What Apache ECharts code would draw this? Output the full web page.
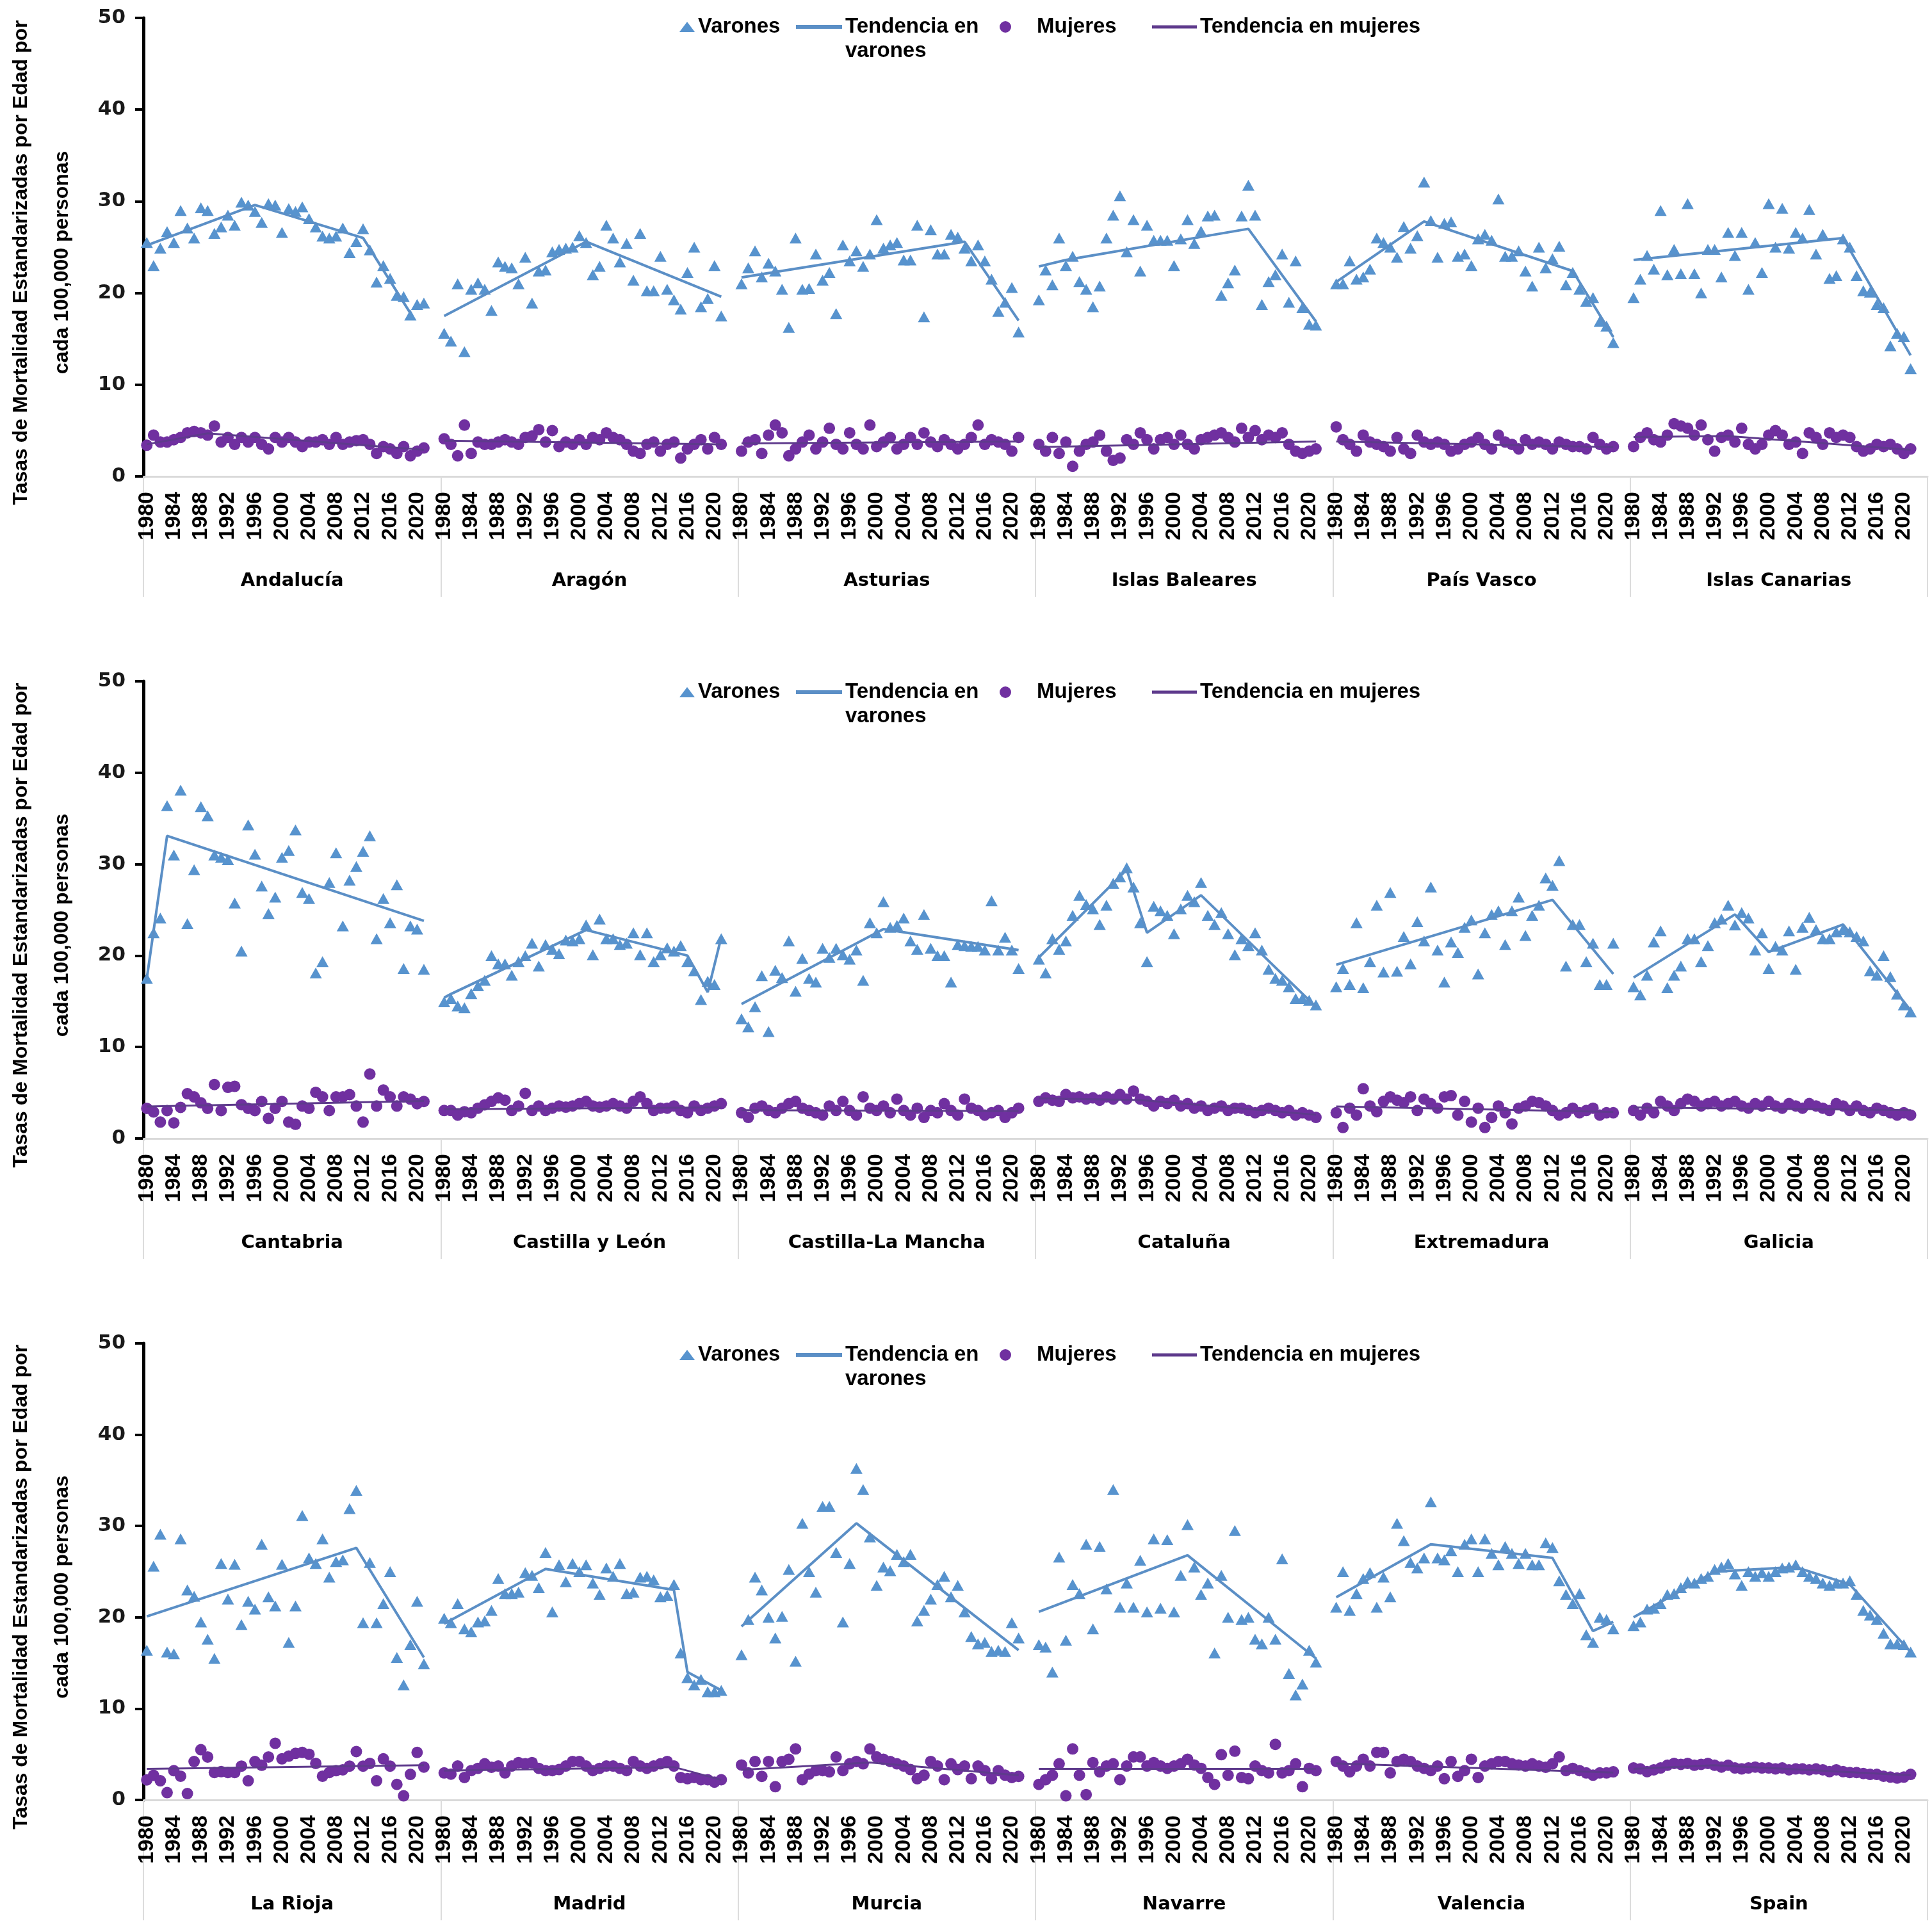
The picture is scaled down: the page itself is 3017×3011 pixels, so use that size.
<!DOCTYPE html>
<html>
<head>
<meta charset="utf-8">
<script src="https://cdn.jsdelivr.net/npm/echarts@6/dist/echarts.min.js"></script>
<style>
  html, body { margin: 0; padding: 0; background: #fff; }
  #chart { width: 3017px; height: 3011px; }
</style>
</head>
<body>
<div id="chart"></div>
<script>
var years = [1980, 1981, 1982, 1983, 1984, 1985, 1986, 1987, 1988, 1989, 1990, 1991, 1992, 1993,
	1994, 1995, 1996, 1997, 1998, 1999, 2000, 2001, 2002, 2003, 2004, 2005, 2006, 2007,
	2008, 2009, 2010, 2011, 2012, 2013, 2014, 2015, 2016, 2017, 2018, 2019, 2020, 2021];

var panel1Regions = ['Andalucía', 'Aragón', 'Asturias', 'Islas Baleares', 'País Vasco', 'Islas Canarias'];
var panel2Regions = ['Cantabria', 'Castilla y León', 'Castilla-La Mancha', 'Cataluña', 'Extremadura', 'Galicia'];
var panel3Regions = ['La Rioja', 'Madrid', 'Murcia', 'Navarre', 'Valencia', 'Spain'];

var yTicks = [0, 10, 20, 30, 40, 50];

// Varones (triangles), 1980-2021
var andaluciaVarones = [25.5, 23, 24.9, 26.7, 25.5, 29, 27.1, 26, 29.3, 29, 26.5, 27.2, 28.5, 27.4, 29.9, 29.6, 28.9, 27.7, 29.75, 29.6, 26.6, 29.2, 28.9, 29.4, 28.1, 27.2, 26.2, 26, 26.2, 27.1, 24.4, 25.6, 27, 24.7, 21.2, 23, 21.6, 19.75, 19.6, 17.6, 18.75, 18.9];
var aragonVarones = [15.6, 14.75, 21, 13.6, 20.4, 21.1, 20.4, 18.1, 23.4, 22.9, 22.75, 21, 23.9, 18.9, 22.4, 22.5, 24.5, 24.75, 24.9, 25, 26.25, 25.5, 22, 22.9, 27.4, 26, 23.4, 25.4, 21.4, 26.5, 20.25, 20.25, 24, 20.4, 19.25, 18.25, 22.25, 25, 18.5, 19.4, 23, 17.5];
var asturiasVarones = [21, 22.75, 24.6, 21.75, 23.25, 22.4, 20.4, 16.25, 26, 20.4, 20.5, 24.25, 21.4, 22.25, 17.75, 25.25, 23.5, 24.6, 22.9, 24.25, 28, 24.9, 25.25, 25.5, 23.6, 23.6, 27.4, 17.4, 26.9, 24.25, 24.25, 26.4, 26.1, 24.9, 23.5, 25.25, 23.5, 21.5, 18, 19, 20.6, 15.75];
var balearesVarones = [19.25, 22.5, 20.9, 26, 23, 24, 21.25, 20.4, 18.5, 20.75, 26, 28.5, 30.6, 24.5, 28, 22.4, 27.4, 25.75, 25.75, 25.75, 23, 25.9, 28, 25.4, 26.75, 28.4, 28.5, 19.75, 21.1, 22.5, 28.4, 31.75, 28.5, 18.75, 21.25, 22, 24.25, 19, 23.5, 18.4, 16.6, 16.5];
var paisVascoVarones = [21, 21, 23.5, 21.5, 21.75, 22.6, 26, 25.5, 25, 23.9, 27.25, 24.9, 26.25, 32.1, 27.9, 23.9, 27.6, 27.75, 24, 24.25, 23, 25.9, 26.4, 25.75, 30.25, 24, 24, 24.6, 22.4, 20.75, 25, 22.75, 23.75, 25.1, 20.9, 22.25, 20.4, 19.1, 19.5, 16.9, 16.4, 14.6];
var canariasVarones = [19.5, 21.5, 24.1, 22.6, 29, 22, 24.75, 22.1, 29.75, 22.1, 20, 24.75, 24.75, 21.75, 26.6, 24.1, 26.6, 20.4, 25.5, 22.25, 29.75, 25, 29.25, 24.9, 26.6, 26, 29.1, 24.25, 26.4, 21.6, 21.9, 25.9, 25, 21.9, 20.25, 20.1, 18.75, 18.4, 14.25, 15.6, 15.25, 11.75];
var cantabriaVarones = [17.5, 22.5, 24.1, 36.4, 31, 38.1, 23.5, 29.4, 36.3, 35.3, 31, 30.75, 30.5, 25.75, 20.5, 34.3, 31.1, 27.6, 24.6, 26.4, 30.75, 31.5, 33.75, 26.9, 26.25, 18.1, 19.35, 28, 31.25, 23.25, 28.25, 29.75, 31.4, 33.1, 21.85, 26.25, 23.6, 27.75, 18.6, 23.25, 22.9, 18.5];
var castillaLeonVarones = [14.95, 15.3, 14.5, 14.3, 15.85, 16.7, 17.3, 20, 19.1, 19.1, 17.85, 19.35, 20, 21.35, 18.85, 21.2, 20.7, 20.2, 21.7, 21.6, 21.85, 23.35, 20.1, 24, 21.85, 21.85, 21.2, 21.35, 22.5, 20.1, 22.5, 19.35, 20.1, 20.85, 20.5, 21.1, 19.35, 18.35, 15.2, 17.2, 16.85, 21.85];
var castillaManchaVarones = [13.1, 12.2, 14.4, 17.8, 11.7, 18.4, 17.6, 21.6, 16.1, 19.7, 17.5, 17.1, 20.8, 19.8, 20.8, 20.1, 19.6, 20.6, 17.3, 23.6, 22.5, 25.9, 23.1, 23.3, 24.1, 21.6, 20.7, 24.5, 20.8, 20, 20, 17.1, 21.2, 21.1, 21, 21, 20.6, 26, 20.6, 22, 20.6, 18.6];
var catalunaVarones = [19.6, 18.1, 21.85, 20.7, 21.6, 24.4, 26.6, 25.6, 25.1, 23.4, 25.5, 27.9, 28.6, 29.6, 27.5, 23.6, 19.35, 25.4, 24.9, 24.4, 22.4, 25.1, 26.6, 25.9, 28, 24.4, 23.4, 24.7, 22.4, 20.1, 21.85, 21.1, 22.5, 20.6, 18.5, 17.5, 17.3, 16.6, 15.3, 15.3, 15.1, 14.6];
var extremaduraVarones = [16.6, 18.6, 16.85, 23.6, 16.5, 19.35, 25.5, 18.2, 26.9, 18.3, 22.1, 19.1, 23.7, 21.6, 27.5, 20.6, 17.1, 21.5, 20.35, 23.1, 23.9, 18, 22.5, 24.5, 24.9, 21.2, 24.9, 26.4, 22.2, 24.4, 25.5, 28.5, 27.7, 30.4, 18.85, 23.4, 23.4, 19.35, 21.35, 16.85, 16.85, 21.35];
var galiciaVarones = [16.6, 15.7, 17.85, 21.5, 22.7, 16.5, 17.85, 18.85, 21.85, 21.85, 19.35, 21.1, 23.6, 24, 25.5, 23.35, 24.7, 24.1, 20.6, 22.5, 18.6, 21, 20.6, 22.7, 18.5, 23.1, 24.2, 22.85, 21.85, 21.85, 22.6, 22.85, 22.6, 22.1, 21.6, 18.35, 17.85, 20, 17.7, 15.8, 14.6, 13.85];
var riojaVarones = [16.4, 25.6, 29.1, 16.2, 16, 28.6, 23, 22.3, 19.5, 17.6, 15.5, 25.9, 22, 25.8, 19.2, 21.75, 20.9, 28, 22.25, 21.25, 25.8, 17.25, 21.25, 31.15, 26.5, 25.9, 28.6, 24.4, 26.1, 26.3, 31.9, 33.9, 19.4, 26, 19.4, 21.5, 25, 15.6, 12.6, 17, 21.75, 14.9];
var madridVarones = [19.9, 19.4, 21.5, 18.75, 18.4, 19.5, 19.6, 20.75, 24.25, 22.6, 22.6, 22.75, 24.9, 24.6, 23.25, 27.1, 20.6, 25.75, 23.9, 25.9, 25, 25.75, 23.75, 22.5, 25.4, 24.5, 25.9, 22.6, 22.75, 24.4, 24.5, 24.1, 22.25, 22.4, 23.6, 16.1, 13.4, 12.6, 13.2, 11.85, 11.85, 12];
var murciaVarones = [15.9, 19.75, 24.4, 23, 20, 17.75, 20.1, 25.25, 15.2, 30.3, 25, 22.75, 32.15, 32.15, 27.1, 19.5, 25.9, 36.3, 34, 28.8, 23.5, 25.5, 25.1, 26.9, 26.1, 26.9, 19.6, 20.75, 22, 23.6, 24.5, 22.25, 23.5, 20.6, 17.9, 17.1, 17.25, 16.25, 16.4, 16.25, 19.4, 17.75];
var navarraVarones = [17, 16.75, 14, 26.6, 17.5, 23.6, 22.6, 28, 18.75, 27.75, 23.1, 34, 21.1, 23.75, 21.1, 26.25, 20.6, 28.6, 21, 28.5, 20.6, 24.6, 30.15, 25.5, 22.5, 23.75, 16.1, 24.6, 20, 29.5, 19.75, 20, 17.6, 17.1, 20, 17.6, 26.4, 13.85, 11.5, 12.7, 16.4, 15.1];
var valenciaVarones = [21.1, 25, 20.75, 22.6, 24.25, 24.9, 21.1, 24.4, 22.25, 30.3, 28.4, 26, 25.4, 26.5, 32.65, 26.5, 26.3, 27.3, 25, 28, 28.6, 25, 28.6, 27, 25.75, 27.75, 27, 25.9, 27, 25.75, 25.75, 28.15, 27.65, 24, 22.5, 21.5, 22.6, 18.1, 17.25, 20, 19.75, 18.75];
var spainVarones = [19.1, 19.5, 20.9, 21, 21.5, 22.5, 22.6, 23.25, 23.9, 23.75, 24.25, 24.5, 25.25, 25.5, 25.9, 24.75, 23.5, 25, 24.5, 24.9, 24.5, 25, 25.4, 25.5, 25.75, 25, 24.5, 24.25, 23.75, 23.5, 23.75, 23.75, 24, 22.5, 20.75, 20.25, 19.75, 18.25, 17.1, 17.1, 17, 16.2];

// Mujeres (circles), 1980-2021
var andaluciaMujeres = [3.4, 4.5, 3.75, 3.75, 4, 4.25, 4.75, 4.9, 4.75, 4.5, 5.5, 3.75, 4.25, 3.5, 4.25, 3.75, 4.25, 3.5, 3, 4.25, 3.75, 4.25, 3.75, 3.25, 3.75, 3.75, 4, 3.5, 4.25, 3.5, 3.75, 3.9, 4, 3.5, 2.5, 3.25, 3, 2.5, 3.25, 2.25, 2.75, 3.1];
var aragonMujeres = [4.1, 3.5, 2.25, 5.6, 2.5, 3.75, 3.5, 3.5, 3.75, 4, 3.75, 3.5, 4.25, 4.4, 5.1, 3.75, 5, 3.25, 3.75, 3.5, 4, 3.5, 4.25, 4, 4.75, 4.25, 4, 3.5, 2.75, 2.5, 3.5, 3.75, 2.75, 3.5, 3.75, 2, 3, 3.5, 4, 3, 4.25, 3.5];
var asturiasMujeres = [2.75, 3.75, 4, 2.5, 4.5, 5.6, 4.75, 2.25, 3, 3.75, 4.5, 3, 3.75, 5.25, 3.5, 3, 4.75, 3.5, 3, 5.6, 3.25, 3.75, 4.25, 3, 3.5, 4.25, 3.5, 4.75, 3.75, 3.25, 4, 3.5, 3, 3.5, 4.25, 5.6, 3.5, 4, 3.75, 3.5, 2.75, 4.25];
var balearesMujeres = [3.5, 2.75, 4.25, 2.5, 3.75, 1.1, 2.75, 3.5, 3.75, 4.5, 2.75, 1.75, 2, 4, 3.5, 4.75, 4, 3, 4, 4.25, 3.5, 4.5, 3.5, 3, 4, 4.25, 4.5, 4.75, 4.25, 3.75, 5.25, 4.25, 5, 4, 4.5, 4.25, 4.75, 3.5, 2.75, 2.5, 2.75, 3];
var paisVascoMujeres = [5.4, 4, 3.5, 2.75, 4.5, 3.75, 3.5, 3.25, 2.75, 4.25, 3, 2.5, 4.5, 3.75, 3.5, 3.75, 3.5, 2.75, 3, 3.5, 3.75, 4.25, 3.5, 3, 4.5, 3.75, 3.5, 3, 4, 3.5, 3.75, 3.5, 3, 3.75, 3.5, 3.25, 3.25, 3, 4.25, 3.5, 3, 3.25];
var canariasMujeres = [3.25, 4.25, 4.75, 4, 3.75, 4.5, 5.75, 5.5, 5.25, 4.5, 5.6, 4, 2.75, 4.25, 4.5, 3.75, 5.25, 3.5, 3, 3.5, 4.5, 5, 4.5, 3.5, 3.75, 2.5, 4.75, 4.25, 3.5, 4.75, 4.25, 4.5, 4.25, 3.25, 2.75, 3, 3.5, 3.25, 3.5, 3, 2.5, 3];
var cantabriaMujeres = [3.3, 2.9, 1.8, 3.05, 1.7, 3.4, 4.9, 4.55, 3.9, 3.3, 5.9, 3.05, 5.6, 5.7, 3.7, 3.3, 3.05, 4.05, 2.2, 3.3, 4.05, 1.8, 1.55, 3.55, 3.3, 5.05, 4.55, 3.05, 4.55, 4.55, 4.8, 3.55, 1.8, 7.05, 3.55, 5.3, 4.55, 3.55, 4.55, 4.3, 3.8, 4.05];
var castillaLeonMujeres = [3.06, 3.06, 2.56, 2.93, 2.81, 3.31, 3.68, 4.06, 4.44, 4.19, 3.06, 3.56, 4.94, 3.06, 3.56, 3.06, 3.31, 3.56, 3.43, 3.56, 3.81, 4.06, 3.56, 3.43, 3.56, 3.81, 3.56, 3.31, 4.06, 4.56, 3.81, 3.06, 3.31, 3.31, 3.56, 3.06, 2.81, 3.56, 3.06, 3.31, 3.56, 3.81];
var castillaManchaMujeres = [2.81, 2.31, 3.31, 3.56, 3.06, 2.81, 3.31, 3.81, 4.06, 3.31, 3.06, 2.81, 2.56, 3.56, 3.06, 4.06, 3.06, 2.56, 4.56, 3.31, 3.06, 3.56, 2.81, 4.31, 3.06, 2.56, 3.31, 2.31, 3.06, 2.81, 3.81, 3.06, 2.56, 4.31, 3.31, 3.06, 2.56, 2.81, 3.06, 2.31, 2.81, 3.31];
var catalunaMujeres = [4.06, 4.44, 4.19, 4.06, 4.81, 4.44, 4.56, 4.31, 4.44, 4.19, 4.56, 4.31, 4.81, 4.31, 5.19, 4.31, 4.06, 3.56, 4.06, 3.81, 4.19, 3.56, 3.81, 3.31, 3.56, 3.06, 3.31, 3.56, 3.06, 3.31, 3.31, 3.06, 2.81, 3.06, 3.31, 3.06, 2.81, 3.06, 2.56, 2.81, 2.56, 2.31];
var extremaduraMujeres = [2.81, 1.2, 3.31, 2.56, 5.44, 3.56, 2.93, 4.06, 4.56, 4.19, 3.93, 4.56, 3.06, 4.31, 3.81, 3.31, 4.56, 4.69, 2.56, 4.06, 1.8, 3.31, 1.2, 2.3, 3.56, 2.81, 1.6, 3.31, 3.56, 4.06, 3.93, 3.56, 3.06, 2.56, 2.81, 3.31, 2.81, 3.06, 3.31, 2.56, 2.81, 2.81];
var galiciaMujeres = [3.06, 2.56, 3.31, 2.81, 4.06, 3.56, 3.06, 3.81, 4.31, 4.06, 3.56, 3.81, 4.06, 3.56, 3.81, 4.06, 3.56, 3.31, 3.81, 3.56, 4.06, 3.56, 3.31, 3.81, 3.56, 3.31, 3.81, 3.56, 3.31, 3.06, 3.81, 3.56, 3.06, 3.56, 3.06, 2.81, 3.31, 3.06, 2.81, 2.56, 2.81, 2.56];
var riojaMujeres = [2.2, 2.7, 2.1, 0.8, 3.2, 2.6, 0.7, 4.2, 5.5, 4.7, 3, 3.1, 3, 3, 3.7, 2.1, 4.2, 3.8, 4.7, 6.2, 4.5, 4.8, 5.1, 5.2, 5, 4, 2.6, 3, 3.2, 3.3, 3.7, 5.3, 3.7, 4, 2.1, 4.5, 3.7, 1.7, 0.45, 2.8, 5.2, 3.6];
var madridMujeres = [2.96, 2.83, 3.71, 2.46, 3.21, 3.46, 3.96, 3.58, 3.71, 2.96, 3.71, 4.09, 3.96, 4.09, 3.46, 3.21, 3.21, 3.33, 3.71, 4.21, 4.21, 3.71, 3.21, 3.46, 3.71, 3.71, 3.46, 3.21, 4.21, 3.71, 3.46, 3.71, 3.96, 4.21, 3.71, 2.46, 2.33, 2.46, 2.21, 2.21, 1.95, 2.21];
var murciaMujeres = [3.83, 2.96, 4.21, 2.58, 4.21, 1.45, 4.21, 4.46, 5.59, 2.21, 2.83, 3.21, 3.21, 3.08, 4.71, 3.21, 3.96, 4.21, 3.96, 5.59, 4.71, 4.46, 4.21, 3.96, 3.71, 3.33, 2.33, 2.71, 4.21, 3.71, 2.21, 3.96, 3.33, 3.71, 2.33, 3.71, 3.21, 2.33, 3.21, 2.71, 2.46, 2.58];
var navarraMujeres = [1.7, 2.21, 2.71, 3.96, 0.45, 5.59, 2.71, 0.58, 4.09, 3.08, 3.71, 3.96, 2.21, 3.71, 4.71, 4.71, 3.71, 4.09, 3.71, 3.46, 3.71, 3.96, 4.46, 3.83, 3.46, 2.46, 1.7, 4.96, 2.71, 5.34, 2.46, 2.33, 3.71, 3.21, 2.96, 6.09, 2.96, 3.21, 3.96, 1.45, 3.46, 3.21];
var valenciaMujeres = [4.21, 3.71, 3.08, 3.71, 4.46, 3.71, 5.21, 5.21, 2.96, 4.21, 4.46, 4.21, 3.71, 3.46, 3.21, 3.71, 2.33, 4.21, 2.58, 3.21, 4.46, 2.46, 3.71, 3.96, 4.21, 4.21, 3.96, 3.83, 3.71, 3.96, 3.71, 3.58, 3.96, 4.71, 3.21, 3.46, 3.21, 2.96, 2.71, 2.96, 2.96, 3.08];
var spainMujeres = [3.5, 3.4, 3.1, 3.3, 3.5, 3.8, 4, 3.9, 4, 3.8, 3.9, 4, 3.8, 3.6, 3.8, 3.5, 3.4, 3.5, 3.6, 3.5, 3.5, 3.4, 3.5, 3.3, 3.4, 3.4, 3.3, 3.4, 3.3, 3.1, 3.3, 3.1, 3, 3, 2.9, 2.8, 2.8, 2.6, 2.5, 2.4, 2.5, 2.8];

// Joinpoint trend vertices [year, rate], men
var andaluciaTendV = [[1980, 25.2], [1996, 29.6], [2012, 26], [2019, 17.8]];
var aragonTendV = [[1980, 17.5], [2001, 25.6], [2021, 19.6]];
var asturiasTendV = [[1980, 21.7], [1985, 22.3], [2013, 25.6], [2021, 17]];
var balearesTendV = [[1980, 22.9], [1984, 23.6], [2011, 27], [2021, 16.9]];
var paisVascoTendV = [[1980, 21.2], [1993, 27.8], [2015, 22.4], [2021, 15.2]];
var canariasTendV = [[1980, 23.6], [2011, 26], [2021, 13.2]];
var cantabriaTendV = [[1980, 17.5], [1983, 33.1], [2021, 23.8]];
var castillaLeonTendV = [[1980, 15.4], [1981, 15.8], [2001, 22.8], [2016, 20], [2019, 16], [2021, 22]];
var castillaManchaTendV = [[1980, 14.7], [2001, 22.9], [2021, 20.6]];
var catalunaTendV = [[1980, 19.8], [1993, 29.4], [1996, 22.5], [2004, 26.6], [2021, 14.4]];
var extremaduraTendV = [[1980, 19], [2012, 26.1], [2021, 18]];
var galiciaTendV = [[1980, 17.6], [1995, 24.5], [2000, 20.4], [2011, 23.4], [2021, 14]];
var riojaTendV = [[1980, 20.1], [2011, 27.6], [2021, 15.6]];
var madridTendV = [[1980, 19.3], [1995, 25.3], [2014, 23], [2016, 14], [2021, 12]];
var murciaTendV = [[1980, 19], [1997, 30.3], [2021, 16.4]];
var navarraTendV = [[1980, 20.6], [2002, 26.8], [2021, 15.5]];
var valenciaTendV = [[1980, 22.2], [1994, 28], [2012, 26.5], [2018, 18.5], [2021, 19.5]];
var spainTendV = [[1980, 20], [1992, 25], [2004, 25.5], [2012, 23.6], [2021, 16.2]];

// Joinpoint trend vertices [year, rate], women
var andaluciaTendM = [[1980, 3.5], [1989, 4.7], [2021, 2.9]];
var aragonTendM = [[1980, 3.9], [2021, 3.5]];
var asturiasTendM = [[1980, 3.6], [2021, 3.8]];
var balearesTendM = [[1980, 3.2], [2021, 3.8]];
var paisVascoTendM = [[1980, 3.8], [2021, 3.2]];
var canariasTendM = [[1980, 4.3], [1994, 4.4], [2021, 2.9]];
var cantabriaTendM = [[1980, 3.5], [2021, 4.1]];
var castillaLeonTendM = [[1980, 3.2], [2021, 3.4]];
var castillaManchaTendM = [[1980, 3.1], [2021, 3.0]];
var catalunaTendM = [[1980, 4.4], [1995, 4.2], [2021, 2.6]];
var extremaduraTendM = [[1980, 3.5], [2021, 2.9]];
var galiciaTendM = [[1980, 3.4], [2021, 3.1]];
var riojaTendM = [[1980, 3.4], [2021, 3.8]];
var madridTendM = [[1980, 3.2], [2014, 3.6], [2021, 2.2]];
var murciaTendM = [[1980, 3.3], [1999, 4.1], [2021, 2.7]];
var navarraTendM = [[1980, 3.4], [2021, 3.4]];
var valenciaTendM = [[1980, 4.0], [2021, 3.0]];
var spainTendM = [[1980, 3.4], [1992, 3.8], [2021, 2.7]];

var COLOR_V = '#5793CE';
var COLOR_TV = '#5B8FC6';
var COLOR_M = '#7030A0';
var COLOR_TM = '#5E3A8C';
var GAP = 2; // empty slots after each region on the category axis
var SLOTS = years.length + GAP;

var panels = [
	{
		regions: panel1Regions, top: 28, height: 716, legendY: 42,
		varones: [andaluciaVarones, aragonVarones, asturiasVarones, balearesVarones, paisVascoVarones, canariasVarones],
		mujeres: [andaluciaMujeres, aragonMujeres, asturiasMujeres, balearesMujeres, paisVascoMujeres, canariasMujeres],
		tendV: [andaluciaTendV, aragonTendV, asturiasTendV, balearesTendV, paisVascoTendV, canariasTendV],
		tendM: [andaluciaTendM, aragonTendM, asturiasTendM, balearesTendM, paisVascoTendM, canariasTendM]
	},
	{
		regions: panel2Regions, top: 1064, height: 714, legendY: 1081,
		varones: [cantabriaVarones, castillaLeonVarones, castillaManchaVarones, catalunaVarones, extremaduraVarones, galiciaVarones],
		mujeres: [cantabriaMujeres, castillaLeonMujeres, castillaManchaMujeres, catalunaMujeres, extremaduraMujeres, galiciaMujeres],
		tendV: [cantabriaTendV, castillaLeonTendV, castillaManchaTendV, catalunaTendV, extremaduraTendV, galiciaTendV],
		tendM: [cantabriaTendM, castillaLeonTendM, castillaManchaTendM, catalunaTendM, extremaduraTendM, galiciaTendM]
	},
	{
		regions: panel3Regions, top: 2098, height: 713, legendY: 2116,
		varones: [riojaVarones, madridVarones, murciaVarones, navarraVarones, valenciaVarones, spainVarones],
		mujeres: [riojaMujeres, madridMujeres, murciaMujeres, navarraMujeres, valenciaMujeres, spainMujeres],
		tendV: [riojaTendV, madridTendV, murciaTendV, navarraTendV, valenciaTendV, spainTendV],
		tendM: [riojaTendM, madridTendM, murciaTendM, navarraTendM, valenciaTendM, spainTendM]
	}
];

var boldText = {
	fontFamily: 'Liberation Sans',
	fontWeight: 'bold',
	fontSize: 33,
	lineHeight: 38,
	color: '#000'
};

function categoriesFor(regions) {
	var cats = [];
	regions.forEach(function (r) {
		years.forEach(function (y) { cats.push(r + '|' + y); });
		for (var g = 0; g < GAP; g++) cats.push(r + '|gap' + g);
	});
	return cats;
}

function pointsFor(valueLists) {
	var pts = [];
	valueLists.forEach(function (list, r) {
		list.forEach(function (v, i) { pts.push([r * SLOTS + i, v]); });
	});
	return pts;
}

function trendFor(vertices, r) {
	return vertices.map(function (p) { return [r * SLOTS + (p[0] - years[0]), p[1]]; });
}

var grids = [], xAxes = [], yAxes = [], series = [], legends = [];

panels.forEach(function (panel, p) {
	grids.push({ left: 224, right: 7, top: panel.top, height: panel.height, outerBoundsMode: 'none' });

	xAxes.push({
		type: 'category',
		gridIndex: p,
		position: 'bottom',
		data: categoriesFor(panel.regions),
		axisLine: { lineStyle: { color: '#d9d9d9', width: 3 } },
		axisTick: { show: false },
		splitLine: { show: false },
		axisLabel: {
			interval: function (index, value) {
				var y = Number(String(value).split('|')[1]);
				return !isNaN(y) && (y - 1980) % 4 === 0;
			},
			formatter: function (value) { return String(value).split('|')[1]; },
			rotate: 90,
			margin: 24,
			fontFamily: 'Liberation Sans',
			fontWeight: 'bold',
			fontSize: 34,
			color: '#000'
		}
	});
	xAxes.push({
		type: 'category',
		gridIndex: p,
		position: 'bottom',
		data: panel.regions,
		axisLine: { show: false },
		axisTick: { show: true, interval: 0, length: 188, lineStyle: { color: '#dcdcdc', width: 2 } },
		splitLine: { show: false },
		axisLabel: {
			interval: 0,
			margin: 163,
			verticalAlign: 'middle',
			fontFamily: 'DejaVu Sans',
			fontWeight: 'bold',
			fontSize: 29,
			color: '#000'
		}
	});

	yAxes.push({
		type: 'value',
		gridIndex: p,
		min: yTicks[0],
		max: yTicks[yTicks.length - 1],
		interval: 10,
		axisLine: { show: true, lineStyle: { color: '#000', width: 5 } },
		axisTick: { show: true, length: 13, lineStyle: { color: '#000', width: 4 } },
		splitLine: { show: false },
		axisLabel: { margin: 28, fontFamily: 'DejaVu Sans', fontWeight: 'bold', fontSize: 31, color: '#1a1a1a' },
		name: 'Tasas de Mortalidad Estandarizadas por Edad por\ncada 100,000 personas',
		nameLocation: 'middle',
		nameRotate: 90,
		nameGap: 95,
		nameTextStyle: {
			fontFamily: 'Liberation Sans', fontWeight: 'bold', fontSize: 32, lineHeight: 64, color: '#000',
			padding: [0, 48, 0, 0]
		}
	});

	series.push({
		name: 'Varones', type: 'scatter', xAxisIndex: p * 2, yAxisIndex: p,
		symbol: 'triangle', symbolSize: [19, 17], z: 2,
		itemStyle: { color: COLOR_V, opacity: 1 },
		data: pointsFor(panel.varones)
	});
	panel.tendV.forEach(function (t, r) {
		series.push({
			name: 'Tendencia en varones', type: 'line', xAxisIndex: p * 2, yAxisIndex: p,
			symbol: 'none', z: 3,
			lineStyle: { color: COLOR_TV, width: 4 },
			itemStyle: { color: COLOR_TV },
			data: trendFor(t, r)
		});
	});
	series.push({
		name: 'Mujeres', type: 'scatter', xAxisIndex: p * 2, yAxisIndex: p,
		symbol: 'circle', symbolSize: 18, z: 4,
		itemStyle: { color: COLOR_M, opacity: 1 },
		data: pointsFor(panel.mujeres)
	});
	panel.tendM.forEach(function (t, r) {
		series.push({
			name: 'Tendencia en mujeres', type: 'line', xAxisIndex: p * 2, yAxisIndex: p,
			symbol: 'none', z: 5,
			lineStyle: { color: COLOR_TM, width: 3 },
			itemStyle: { color: COLOR_TM },
			data: trendFor(t, r)
		});
	});

	var c = panel.legendY;
	legends.push({ data: ['Varones'], left: 1061, top: c - 19, padding: 0, itemWidth: 24, itemHeight: 16, textStyle: boldText, selectedMode: false });
	// leading empty line keeps the first text line level with the icon
	legends.push({
		data: [{ name: 'Tendencia en varones', icon: 'rect' }],
		formatter: function () { return '\nTendencia en\nvarones'; },
		left: 1243, top: c - 57, padding: 0, itemWidth: 72, itemHeight: 6, symbolKeepAspect: false,
		textStyle: boldText, selectedMode: false
	});
	legends.push({ data: ['Mujeres'], left: 1561, top: c - 19, padding: 0, itemWidth: 88, itemHeight: 18, textStyle: boldText, selectedMode: false });
	legends.push({
		data: [{ name: 'Tendencia en mujeres', icon: 'rect' }],
		left: 1799, top: c - 19, padding: 0, itemWidth: 70, itemHeight: 5, symbolKeepAspect: false,
		textStyle: boldText, selectedMode: false
	});
});

var chart = echarts.init(document.getElementById('chart'));
chart.setOption({
	animation: false,
	backgroundColor: '#fff',
	grid: grids,
	xAxis: xAxes,
	yAxis: yAxes,
	legend: legends,
	series: series
});
</script>
</body>
</html>
